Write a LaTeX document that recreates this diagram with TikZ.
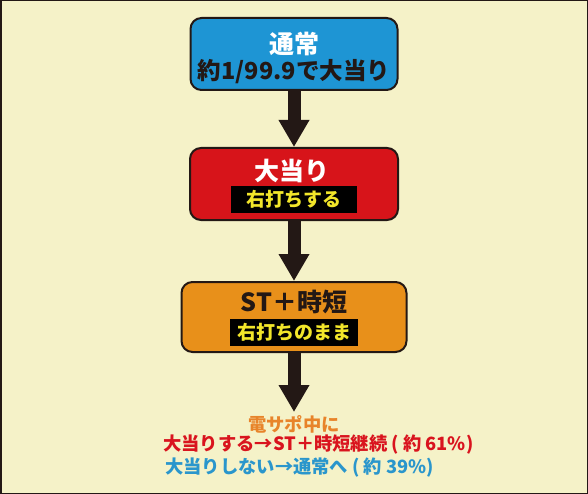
\documentclass[tikz,border=0pt]{standalone}
\usepackage{fontspec}
\setmainfont{Noto Sans CJK JP}
\usepackage{tikz}
\usetikzlibrary{arrows.meta,positioning}
\definecolor{paper}{HTML}{F5F2C8}
\definecolor{inkdark}{HTML}{231815}
\definecolor{normalblue}{HTML}{1E95D4}
\definecolor{hitred}{HTML}{D7141A}
\definecolor{storange}{HTML}{E8901A}
\definecolor{baryellow}{HTML}{F2E62A}
\definecolor{noteorange}{HTML}{E8842A}
\definecolor{notered}{HTML}{D9141E}
\definecolor{noteblue}{HTML}{2A96CC}
\newcommand{\shaft}{13pt}
\newcommand{\headw}{29pt}
\newcommand{\headl}{27pt}

\begin{document}
\begin{tikzpicture}[x=1pt,y=-1pt]
        \begin{scope}
            %\draw[help lines] (0,0) grid (588,494);
            \tikzset{StateStyle/.style = {draw=inkdark, line width=2pt, rounded corners=11pt, minimum height=72pt, inner sep=0pt}}
            \tikzset{TitleStyle/.style = {font=\bfseries\fontsize{25}{28}\selectfont, inner sep=0pt}}
            \tikzset{SubStyle/.style = {font=\bfseries\fontsize{23.5}{26}\selectfont, inner sep=0pt}}
            \tikzset{BarStyle/.style = {fill=black, text=baryellow, font=\bfseries\fontsize{19}{21}\selectfont, minimum height=27pt, inner sep=0pt}}
            \tikzset{NoteStyle/.style = {font=\bfseries\fontsize{18.3}{20}\selectfont, inner sep=0pt}}
            \tikzset{ArrowStyle/.style = {draw=inkdark, line width=\shaft, -{Triangle[width=\headw,length=\headl]}}}

            \fill[paper] (0,0) rectangle (588,494);
            \draw[inkdark, line width=1.5pt] (0.75,0.75) rectangle (587.25,493.25);

            \node[StateStyle, fill=normalblue, minimum width=207pt] (normal) at (294,54) {};
            \node[StateStyle, fill=hitred, minimum width=208pt] (hit) at (294,184) {};
            \node[StateStyle, fill=storange, minimum width=225pt, minimum height=70pt] (st) at (294,317) {};

            \node[TitleStyle, text=white] (normaltitle) at (294,44) {通常};
            \node[SubStyle, text=inkdark] (normalsub) at (294,72) {約1/99.9で大当り};

            \node[TitleStyle, text=white] (hittitle) at (292,171) {大当り};
            \node[BarStyle, minimum width=126pt] (hitbar) at (294,199.5) {右打ちする};

            \node[TitleStyle, text=inkdark] (sttitle) at (294,302) {ST＋時短};
            \node[BarStyle, minimum width=128pt] (stbar) at (294,332.5) {右打ちのまま};

            \coordinate (landing) at (294,412);

            \draw[ArrowStyle] (normal) -- (hit);
            \draw[ArrowStyle] (hit) -- (st);
            \draw[ArrowStyle] (st) -- (landing);

            \node[NoteStyle, text=noteorange] (notehead) at (294,424) {電サポ中に};
            \node[NoteStyle, text=notered, anchor=west] (notehit) at (163,445) {大当りする→ST＋時短継続 ( 約 61\%)};
            \node[NoteStyle, text=noteblue, anchor=west] (notemiss) at (165,468) {大当りしない→通常へ ( 約 39\%)};
        \end{scope}
    \end{tikzpicture}
\end{document}
